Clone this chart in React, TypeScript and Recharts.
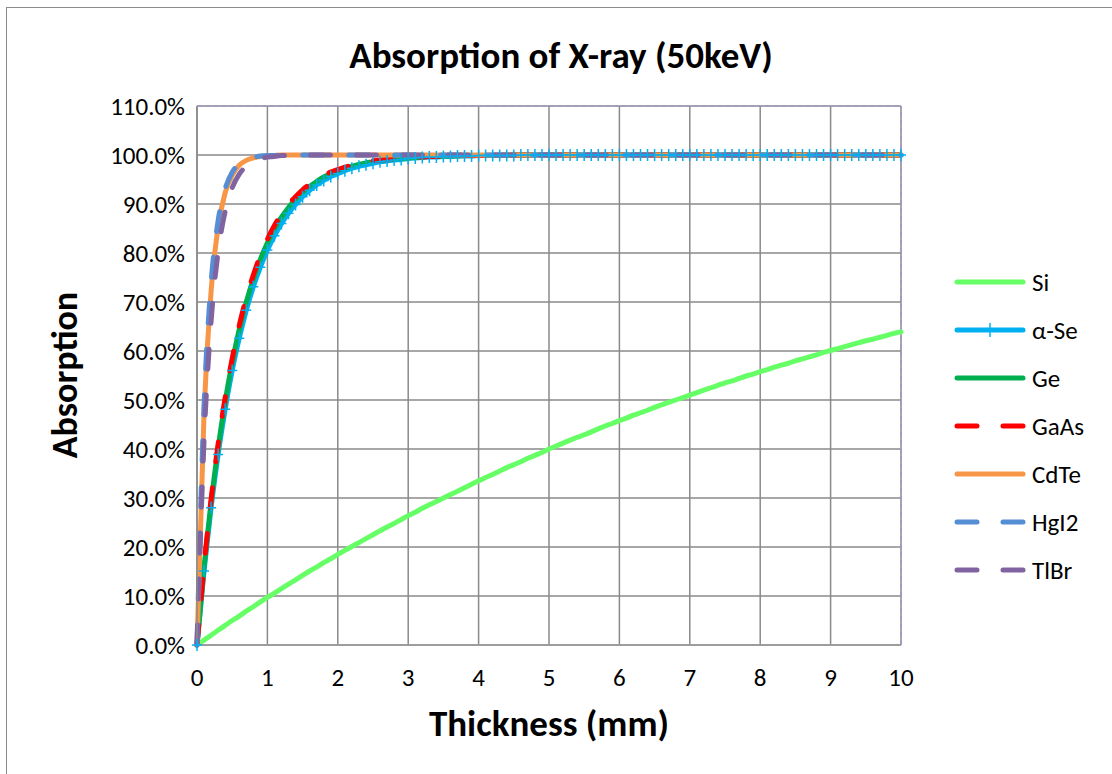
import { LineChart, Line, XAxis, YAxis, CartesianGrid, ReferenceLine } from 'recharts';

const thickness = [
  0, 0.1, 0.2, 0.3, 0.4, 0.5, 0.6, 0.7, 0.8, 0.9,
  1, 1.1, 1.2, 1.3, 1.4, 1.5, 1.6, 1.7, 1.8, 1.9,
  2, 2.1, 2.2, 2.3, 2.4, 2.5, 2.6, 2.7, 2.8, 2.9,
  3, 3.1, 3.2, 3.3, 3.4, 3.5, 3.6, 3.7, 3.8, 3.9,
  4, 4.1, 4.2, 4.3, 4.4, 4.5, 4.6, 4.7, 4.8, 4.9,
  5, 5.1, 5.2, 5.3, 5.4, 5.5, 5.6, 5.7, 5.8, 5.9,
  6, 6.1, 6.2, 6.3, 6.4, 6.5, 6.6, 6.7, 6.8, 6.9,
  7, 7.1, 7.2, 7.3, 7.4, 7.5, 7.6, 7.7, 7.8, 7.9,
  8, 8.1, 8.2, 8.3, 8.4, 8.5, 8.6, 8.7, 8.8, 8.9,
  9, 9.1, 9.2, 9.3, 9.4, 9.5, 9.6, 9.7, 9.8, 9.9,
  10,
];

// absorption in %
const si = [
  0, 1.0, 2.0, 3.0, 4.0, 5.0, 5.9, 6.9, 7.8, 8.8,
  9.7, 10.6, 11.5, 12.4, 13.3, 14.2, 15.1, 15.9, 16.8, 17.6,
  18.5, 19.3, 20.1, 20.9, 21.7, 22.5, 23.3, 24.1, 24.8, 25.6,
  26.4, 27.1, 27.9, 28.6, 29.3, 30.0, 30.7, 31.4, 32.1, 32.8,
  33.5, 34.2, 34.8, 35.5, 36.2, 36.8, 37.4, 38.1, 38.7, 39.3,
  40.0, 40.6, 41.2, 41.8, 42.4, 42.9, 43.5, 44.1, 44.7, 45.2,
  45.8, 46.3, 46.9, 47.4, 47.9, 48.5, 49.0, 49.5, 50.0, 50.5,
  51.0, 51.5, 52.0, 52.5, 53.0, 53.5, 53.9, 54.4, 54.9, 55.3,
  55.8, 56.2, 56.7, 57.1, 57.5, 58.0, 58.4, 58.8, 59.2, 59.7,
  60.1, 60.5, 60.9, 61.3, 61.7, 62.1, 62.4, 62.8, 63.2, 63.6,
  63.9,
];

const se = [
  0, 15.1, 28.0, 38.9, 48.1, 56.0, 62.6, 68.3, 73.1, 77.1,
  80.6, 83.5, 86.0, 88.1, 89.9, 91.5, 92.8, 93.9, 94.8, 95.6,
  96.2, 96.8, 97.3, 97.7, 98.0, 98.3, 98.6, 98.8, 99.0, 99.1,
  99.3, 99.4, 99.5, 99.6, 99.6, 99.7, 99.7, 99.8, 99.8, 99.8,
  99.9, 99.9, 99.9, 99.9, 99.9, 99.9, 100, 100, 100, 100,
  100, 100, 100, 100, 100, 100, 100, 100, 100, 100,
  100, 100, 100, 100, 100, 100, 100, 100, 100, 100,
  100, 100, 100, 100, 100, 100, 100, 100, 100, 100,
  100, 100, 100, 100, 100, 100, 100, 100, 100, 100,
  100, 100, 100, 100, 100, 100, 100, 100, 100, 100,
  100,
];

const ge = [
  0, 15.8, 29.1, 40.3, 49.7, 57.7, 64.4, 70.0, 74.7, 78.7,
  82.1, 84.9, 87.3, 89.3, 91.0, 92.4, 93.6, 94.6, 95.5, 96.2,
  96.8, 97.3, 97.7, 98.1, 98.4, 98.6, 98.9, 99.0, 99.2, 99.3,
  99.4, 99.5, 99.6, 99.7, 99.7, 99.8, 99.8, 99.8, 99.9, 99.9,
  99.9, 99.9, 99.9, 99.9, 100, 100, 100, 100, 100, 100,
  100, 100, 100, 100, 100, 100, 100, 100, 100, 100,
  100, 100, 100, 100, 100, 100, 100, 100, 100, 100,
  100, 100, 100, 100, 100, 100, 100, 100, 100, 100,
  100, 100, 100, 100, 100, 100, 100, 100, 100, 100,
  100, 100, 100, 100, 100, 100, 100, 100, 100, 100,
  100,
];

const gaas = [
  0, 16.1, 29.7, 41.0, 50.5, 58.5, 65.2, 70.8, 75.5, 79.5,
  82.8, 85.6, 87.9, 89.9, 91.5, 92.9, 94.0, 95.0, 95.8, 96.5,
  97.0, 97.5, 97.9, 98.3, 98.5, 98.8, 99.0, 99.1, 99.3, 99.4,
  99.5, 99.6, 99.6, 99.7, 99.7, 99.8, 99.8, 99.9, 99.9, 99.9,
  99.9, 99.9, 99.9, 100, 100, 100, 100, 100, 100, 100,
  100, 100, 100, 100, 100, 100, 100, 100, 100, 100,
  100, 100, 100, 100, 100, 100, 100, 100, 100, 100,
  100, 100, 100, 100, 100, 100, 100, 100, 100, 100,
  100, 100, 100, 100, 100, 100, 100, 100, 100, 100,
  100, 100, 100, 100, 100, 100, 100, 100, 100, 100,
  100,
];

const cdte = [
  0, 47.3, 72.2, 85.3, 92.3, 95.9, 97.9, 98.9, 99.4, 99.7,
  99.8, 99.9, 100, 100, 100, 100, 100, 100, 100, 100,
  100, 100, 100, 100, 100, 100, 100, 100, 100, 100,
  100, 100, 100, 100, 100, 100, 100, 100, 100, 100,
  100, 100, 100, 100, 100, 100, 100, 100, 100, 100,
  100, 100, 100, 100, 100, 100, 100, 100, 100, 100,
  100, 100, 100, 100, 100, 100, 100, 100, 100, 100,
  100, 100, 100, 100, 100, 100, 100, 100, 100, 100,
  100, 100, 100, 100, 100, 100, 100, 100, 100, 100,
  100, 100, 100, 100, 100, 100, 100, 100, 100, 100,
  100,
];

const hgi2 = [
  0, 48.8, 73.8, 86.6, 93.1, 96.5, 98.2, 99.1, 99.5, 99.8,
  99.9, 99.9, 100, 100, 100, 100, 100, 100, 100, 100,
  100, 100, 100, 100, 100, 100, 100, 100, 100, 100,
  100, 100, 100, 100, 100, 100, 100, 100, 100, 100,
  100, 100, 100, 100, 100, 100, 100, 100, 100, 100,
  100, 100, 100, 100, 100, 100, 100, 100, 100, 100,
  100, 100, 100, 100, 100, 100, 100, 100, 100, 100,
  100, 100, 100, 100, 100, 100, 100, 100, 100, 100,
  100, 100, 100, 100, 100, 100, 100, 100, 100, 100,
  100, 100, 100, 100, 100, 100, 100, 100, 100, 100,
  100,
];

const tlbr = [
  0, 41.7, 66.0, 80.2, 88.5, 93.3, 96.1, 97.7, 98.7, 99.2,
  99.6, 99.7, 99.9, 99.9, 100, 100, 100, 100, 100, 100,
  100, 100, 100, 100, 100, 100, 100, 100, 100, 100,
  100, 100, 100, 100, 100, 100, 100, 100, 100, 100,
  100, 100, 100, 100, 100, 100, 100, 100, 100, 100,
  100, 100, 100, 100, 100, 100, 100, 100, 100, 100,
  100, 100, 100, 100, 100, 100, 100, 100, 100, 100,
  100, 100, 100, 100, 100, 100, 100, 100, 100, 100,
  100, 100, 100, 100, 100, 100, 100, 100, 100, 100,
  100, 100, 100, 100, 100, 100, 100, 100, 100, 100,
  100,
];

const xTicks = [0, 1, 2, 3, 4, 5, 6, 7, 8, 9, 10];
const yTicks = [0, 10, 20, 30, 40, 50, 60, 70, 80, 90, 100, 110];

const series = [
  { key: 'si', name: 'Si', color: '#66ff66', dash: undefined, marker: false },
  { key: 'se', name: 'α-Se', color: '#00b0f0', dash: undefined, marker: true },
  { key: 'ge', name: 'Ge', color: '#00b050', dash: undefined, marker: false },
  { key: 'gaas', name: 'GaAs', color: '#ff0000', dash: '20 26', marker: false },
  { key: 'cdte', name: 'CdTe', color: '#f79646', dash: undefined, marker: false },
  { key: 'hgi2', name: 'HgI2', color: '#558ed5', dash: '20 26', marker: false },
  { key: 'tlbr', name: 'TlBr', color: '#8064a2', dash: '20 26', marker: false },
];

const data = thickness.map((t, i) => ({
  t,
  si: si[i],
  se: se[i],
  ge: ge[i],
  gaas: gaas[i],
  cdte: cdte[i],
  hgi2: hgi2[i],
  tlbr: tlbr[i],
}));

const FONT = 'Carlito, Calibri, Lato, sans-serif';

const plusDot = (props: any) => {
  const { cx, cy, index } = props;
  if (cx == null || cy == null) return <g key={`d-${index}`} />;
  return (
    <path
      key={`d-${index}`}
      d={`M${cx - 5},${cy}H${cx + 5}M${cx},${cy - 6}V${cy + 6}`}
      stroke="#00b0f0"
      strokeWidth={1.5}
      fill="none"
    />
  );
};

const App = () => {
  return (
    <div
      style={{
        position: 'absolute',
        left: 6,
        top: 7,
        width: 1106,
        height: 767,
        boxSizing: 'border-box',
        borderLeft: '1px solid #8c8c8c',
        borderTop: '1px solid #8c8c8c',
        background: '#fff',
        fontFamily: FONT,
        overflow: 'hidden',
      }}
    >
      <div
        style={{
          position: 'absolute',
          left: 554,
          top: 25,
          transform: 'translateX(-50%)',
          fontSize: 37,
          lineHeight: '45px',
          fontWeight: 'bold',
          whiteSpace: 'nowrap',
        }}
      >
        Absorption of X-ray (50keV)
      </div>
      <div
        style={{
          position: 'absolute',
          left: 58,
          top: 367,
          transform: 'translate(-50%, -50%) rotate(-90deg)',
          fontSize: 36,
          lineHeight: '44px',
          fontWeight: 'bold',
          whiteSpace: 'nowrap',
        }}
      >
        Absorption
      </div>
      <div
        style={{
          position: 'absolute',
          left: 542,
          top: 694,
          transform: 'translateX(-50%)',
          fontSize: 37,
          lineHeight: '44px',
          fontWeight: 'bold',
          whiteSpace: 'nowrap',
        }}
      >
        Thickness (mm)
      </div>

      <LineChart width={1105} height={766} data={data} margin={{ top: 98, right: 211, left: 0, bottom: 79 }}>
        <CartesianGrid stroke="#8a8a8a" strokeWidth={1.5} />
        <XAxis
          type="number"
          dataKey="t"
          domain={[0, 10]}
          ticks={xTicks}
          height={50}
          tickSize={0}
          tickMargin={23}
          axisLine={{ stroke: '#9a9a9a', strokeWidth: 1.5 }}
          tick={{ fill: '#000', fontSize: 25, fontFamily: FONT }}
        />
        <YAxis
          type="number"
          domain={[0, 110]}
          ticks={yTicks}
          width={190}
          tickSize={0}
          tickMargin={12}
          axisLine={{ stroke: '#8a8a8a', strokeWidth: 1.5 }}
          tickFormatter={(v: number) => `${v.toFixed(1)}%`}
          tick={{ fill: '#000', fontSize: 25, fontFamily: FONT }}
        />
        <ReferenceLine y={110} stroke="#a495c8" strokeWidth={1.5} strokeDasharray="5 3" />
        <ReferenceLine x={10} stroke="#a495c8" strokeWidth={1.5} strokeDasharray="5 3" />
        {series.map((s) => (
          <Line
            key={s.key}
            type="monotone"
            dataKey={s.key}
            name={s.name}
            stroke={s.color}
            strokeWidth={5}
            strokeDasharray={s.dash}
            strokeLinecap="round"
            dot={s.marker ? plusDot : false}
            activeDot={false}
            isAnimationActive={false}
          />
        ))}
      </LineChart>

      <div style={{ position: 'absolute', left: 942, top: 250 }}>
        {series.map((s) => (
          <div key={s.key} style={{ display: 'flex', alignItems: 'center', height: 48 }}>
            <svg width={82} height={20}>
              <line
                x1={8}
                y1={10}
                x2={74}
                y2={10}
                stroke={s.color}
                strokeWidth={5}
                strokeLinecap="round"
                strokeDasharray={s.dash}
              />
              {s.marker && <line x1={41} y1={3} x2={41} y2={17} stroke={s.color} strokeWidth={1.5} />}
            </svg>
            <span style={{ fontSize: 25, marginLeft: 1 }}>{s.name}</span>
          </div>
        ))}
      </div>
    </div>
  );
};

export default App;
